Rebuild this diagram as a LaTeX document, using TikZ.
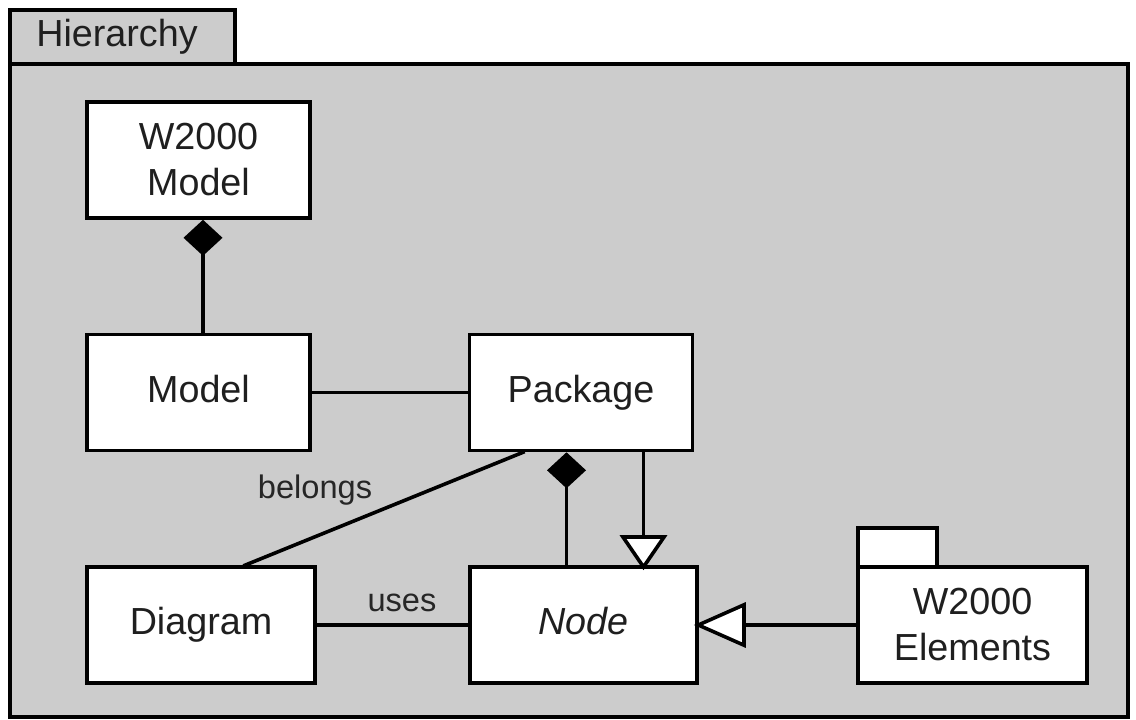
\documentclass[tikz,border=0pt]{standalone}
\usepackage{fontspec}
\setmainfont{Liberation Sans}
\usetikzlibrary{arrows.meta,positioning}
\tikzset{
  lw/.style={line width=3.6pt},
  cls/.style={draw, lw, fill=white, minimum width=223pt, minimum height=116pt,
    inner sep=0pt, align=center, font=\fontsize{37.7}{46}\selectfont, text=black!88},
  oneline/.style={text height=27pt, text depth=8pt},
  tabbox/.style={draw, lw, fill=white, minimum width=79pt, minimum height=39pt, inner sep=0pt},
  lbl/.style={font=\fontsize{32.6}{38}\selectfont, text=black!85, inner sep=0pt},
  conn/.style={lw, line cap=rect},
  comp/.style={conn, -{Diamond[length=36pt,width=39pt,fill=black]}},
  gen/.style={conn, shorten >=-5pt, -{Triangle[open,length=35pt,width=47pt,fill=white]}},
  genlong/.style={conn, shorten >=-5pt, -{Triangle[open,length=52pt,width=45pt,fill=white]}},
}
\begin{document}
\begin{tikzpicture}[x=1pt,y=-1pt]
\useasboundingbox (0,0) rectangle (1136,720);
\fill[white] (0,0) rectangle (1136,720);
% package frame with its tab
\draw[lw, fill=black!20] (10,10) rectangle (235,64);
\node[font=\fontsize{37.7}{46}\selectfont, text=black!88, inner sep=0pt] (title) at (117,37) {Hierarchy};
\draw[lw, fill=black!20] (10,64) rectangle (1128,717);
% classes
\node[cls] (w2model) at (198.5,160) {W2000\\Model};
\node[cls, oneline] (model) at (198.5,392.5) {Model};
\node[cls, oneline] (package) at (581,392.5) {Package};
\node[cls, oneline, minimum width=228pt] (diagram) at (201,625) {Diagram};
\node[cls, oneline, minimum width=227pt] (node) at (583.5,625) {\itshape Node};
\node[cls, minimum width=229pt] (elements) at (972.5,625) {W2000\\Elements};
\node[tabbox] (elemtab) at (897.5,547.5) {};
% connectors
\draw[comp] ([xshift=4.5pt]model.north) -- ([xshift=4.5pt]w2model.south);
\draw[conn] (model) -- (package);
\draw[conn] ([xshift=-58pt]package.south) -- ([xshift=44pt]diagram.north);
\node[lbl] (belongs) at (315,490) {belongs};
\draw[comp] ([xshift=-17pt]node.north) -- ([xshift=-17pt]node.north |- package.south);
\draw[gen] ([xshift=60pt]node.north |- package.south) -- ([xshift=60pt]node.north);
\draw[conn] (diagram) -- (node);
\node[lbl] (uses) at (402,603) {uses};
\draw[genlong] (elements) -- (node);
\end{tikzpicture}
\end{document}
